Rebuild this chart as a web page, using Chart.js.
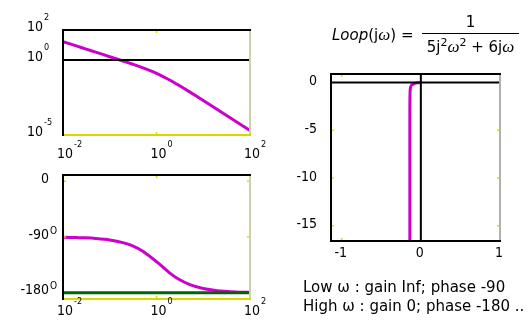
<!DOCTYPE html>
<html>
<head>
<meta charset="utf-8">
<script src="https://cdn.jsdelivr.net/npm/chart.js@4.4.1/dist/chart.umd.min.js"></script>
<style>
    body { margin: 0; background: #fff; }
    #wrap { position: relative; width: 529px; height: 325px; overflow: hidden; font-family: "Comic Sans MS", "DejaVu Sans", sans-serif; color: #000; }
    #wrap canvas { position: absolute; left: 0; top: 0; }
    .txt { position: absolute; white-space: nowrap; font-size: 15px; line-height: 1; }
    .w { font-family: "Liberation Serif", serif; font-style: italic; font-size: 17px; }
    #frac { position: absolute; left: 422px; top: 15px; width: 97px; text-align: center; font-size: 15px; line-height: 1; }
    #frac .num { padding-bottom: 3px; }
    #frac .den { border-top: 1.5px solid #000; padding-top: 3px; }
    #frac sup { font-size: 11px; vertical-align: 6px; }
</style>
</head>
<body>
<div id="wrap">
    <canvas id="gain_chart" width="529" height="325"></canvas>
    <canvas id="phase_chart" width="529" height="325"></canvas>
    <canvas id="nyquist_chart" width="529" height="325"></canvas>

    <div class="txt" style="left:332px; top:26px;"><i>Loop</i>(j<span class="w">ω</span>) =</div>
    <div id="frac">
        <div class="num">1</div>
        <div class="den">5j<sup>2</sup><span class="w">ω</span><sup>2</sup> + 6j<span class="w">ω</span></div>
    </div>

    <div class="txt" style="left:303px; top:280px;">Low ω : gain Inf; phase -90</div>
    <div class="txt" style="left:303px; top:299px;">High ω : gain 0; phase -180 ..</div>
</div>

<script>
// frequency sweep (rad/s) and values
const omega = [0.01, 0.02, 0.03, 0.05, 0.1, 0.2, 0.3, 0.5, 1, 2, 3, 5, 10, 20, 50, 100];
const gain = [16.7, 8.33, 5.56, 3.33, 1.66, 0.822, 0.539, 0.308, 0.128, 0.0429, 0.0206, 0.00778, 0.00199, 0.000499, 0.00008, 0.00002];
const phase = [-90.5, -91.0, -91.4, -92.4, -94.8, -99.5, -104.0, -112.6, -129.8, -149.0, -158.2, -166.3, -173.2, -176.6, -178.6, -179.3];

// reference lines
const unityGain = [1, 1];
const phaseLimit = [-180, -180];

// nyquist locus
const nyqRe = [-0.139, -0.139, -0.139, -0.138, -0.135, -0.131, -0.118, -0.082, -0.037, -0.008, -0.002, 0];
const nyqIm = [-16.7, -8.33, -3.33, -1.66, -0.81, -0.52, -0.28, -0.098, -0.022, -0.002, -0.0002, 0];

// tick labels: [value, base, exponent]
const gainTicks = [[100, "10", "2"], [1, "10", "0"], [0.00001, "10", "-5"]];
const freqTicks = [[0.01, "10", "-2"], [1, "10", "0"], [100, "10", "2"]];
const phaseTicks = [[0, "0", ""], [-90, "-90", "O"], [-180, "-180", "O"]];
const nyqYTicks = [[0, "0", ""], [-5, "-5", ""], [-10, "-10", ""], [-15, "-15", ""]];
const nyqXTicks = [[-1, "-1", ""], [0, "0", ""], [1, "1", ""]];

const MAGENTA = "#cc00cc";
const GREEN = "#006400";
const YELLOW = "#e0e000";
const FONT = '"Comic Sans MS", "DejaVu Sans Condensed", "DejaVu Sans", sans-serif';

function pts(xs, ys) {
    return xs.map((x, i) => ({x: x, y: ys[i]}));
}

function drawPow(ctx, base, exp, x, y, align, exp_font, raise) {
    ctx.font = "14px " + FONT;
    ctx.textBaseline = "middle";
    const bw = ctx.measureText(base).width;
    let bx = align === "right" ? x - bw : x - bw / 2;
    ctx.textAlign = "left";
    ctx.fillText(base, bx, y);
    if (exp) {
        ctx.font = exp_font + "px " + FONT;
        ctx.fillText(exp, bx + bw + 1, y - raise);
    }
}

// box edges, small yellow tick marks, zero axes and tick labels
const framePlugin = {
    id: "frame",
    afterDatasetsDraw(chart, args, opts) {
        const ctx = chart.ctx;
        const a = chart.chartArea;
        const xs = chart.scales.x, ys = chart.scales.y;
        ctx.save();

        if (opts.zeroAxes) {
            ctx.strokeStyle = "#000";
            ctx.lineWidth = 2;
            const x0 = xs.getPixelForValue(0), y0 = ys.getPixelForValue(0);
            ctx.beginPath();
            ctx.moveTo(a.left, y0); ctx.lineTo(a.right, y0);
            ctx.moveTo(x0, a.top); ctx.lineTo(x0, a.bottom);
            ctx.stroke();
        }

        ctx.strokeStyle = YELLOW;
        ctx.lineWidth = 1.5;
        ctx.beginPath();
        (opts.xMarks || []).forEach(v => {
            const px = xs.getPixelForValue(v);
            ctx.moveTo(px, a.top); ctx.lineTo(px, a.top + 3);
            ctx.moveTo(px, a.bottom); ctx.lineTo(px, a.bottom - 3);
        });
        (opts.yMarks || []).forEach(v => {
            const py = ys.getPixelForValue(v);
            ctx.moveTo(a.left, py); ctx.lineTo(a.left + 3, py);
            ctx.moveTo(a.right, py); ctx.lineTo(a.right - 3, py);
        });
        ctx.stroke();

        const e = opts.edges;
        const line = (c, x1, y1, x2, y2) => {
            ctx.strokeStyle = c;
            ctx.lineWidth = 2;
            ctx.beginPath();
            ctx.moveTo(x1, y1); ctx.lineTo(x2, y2);
            ctx.stroke();
        };
        line(e.right, a.right, a.top, a.right, a.bottom);
        line(e.bottom, a.left - 1, a.bottom, a.right + 1, a.bottom);
        line(e.top, a.left - 1, a.top, a.right + 1, a.top);
        line(e.left, a.left, a.top - 1, a.left, a.bottom + 1);

        ctx.fillStyle = "#000";
        opts.yTicks.forEach(t => {
            drawPow(ctx, t[1], t[2], a.left - opts.yGap, ys.getPixelForValue(t[0]) + opts.yShift, "right", opts.expFont, opts.expRaise);
        });
        opts.xTicks.forEach(t => {
            drawPow(ctx, t[1], t[2], xs.getPixelForValue(t[0]) + opts.xShift, opts.xLabelY, "center", 9, 9);
        });
        ctx.restore();
    }
};

const BodeController = {
    gain_chart: null,
    phase_chart: null,
    nyquist_chart: null,
    baseOptions(padding, xScale, yScale, frame) {
        return {
            responsive: false,
            animation: false,
            events: [],
            layout: {padding: padding},
            plugins: {legend: {display: false}, tooltip: {enabled: false}, frame: frame},
            scales: {
                x: Object.assign({display: false}, xScale),
                y: Object.assign({display: false}, yScale)
            }
        };
    },
    SetUpGain() {
        const ctx = document.getElementById("gain_chart").getContext("2d");
        BodeController.gain_chart = new Chart(ctx, {
            type: "line",
            data: {
                datasets: [{
                    data: pts([omega[0], omega[omega.length - 1]], unityGain),
                    borderColor: "#000",
                    borderWidth: 2,
                    pointRadius: 0
                }, {
                    data: pts(omega, gain),
                    borderColor: MAGENTA,
                    borderWidth: 3,
                    pointRadius: 0,
                    tension: 0.3
                }]
            },
            options: BodeController.baseOptions(
                {left: 63, top: 30, right: 279, bottom: 190},
                {type: "logarithmic", min: 0.01, max: 100},
                {type: "logarithmic", min: 0.00001, max: 100},
                {
                    edges: {top: "#000", left: "#000", right: "#d0d0a8", bottom: "#d8d800"},
                    xMarks: [1], yMarks: [],
                    yTicks: gainTicks, yGap: 20, yShift: -3, expFont: 9, expRaise: 9,
                    xTicks: freqTicks, xShift: 2, xLabelY: 154
                }
            ),
            plugins: [framePlugin]
        });
    },
    SetUpPhase() {
        const ctx = document.getElementById("phase_chart").getContext("2d");
        BodeController.phase_chart = new Chart(ctx, {
            type: "line",
            data: {
                datasets: [{
                    data: pts([omega[0], omega[omega.length - 1]], phaseLimit),
                    borderColor: GREEN,
                    borderWidth: 3,
                    pointRadius: 0
                }, {
                    data: pts(omega, phase),
                    borderColor: MAGENTA,
                    borderWidth: 3,
                    pointRadius: 0,
                    tension: 0.3
                }]
            },
            options: BodeController.baseOptions(
                {left: 63, top: 175, right: 279, bottom: 26},
                {type: "logarithmic", min: 0.01, max: 100},
                {type: "linear", min: -190, max: 10},
                {
                    edges: {top: "#000", left: "#000", right: "#d0d0a8", bottom: "#d8d800"},
                    xMarks: [1], yMarks: [0, -90],
                    yTicks: phaseTicks, yGap: 14, yShift: -2, expFont: 10, expRaise: 4,
                    xTicks: freqTicks, xShift: 2, xLabelY: 311
                }
            ),
            plugins: [framePlugin]
        });
    },
    SetUpNyquist() {
        const ctx = document.getElementById("nyquist_chart").getContext("2d");
        BodeController.nyquist_chart = new Chart(ctx, {
            type: "line",
            data: {
                datasets: [{
                    data: pts(nyqRe, nyqIm),
                    borderColor: MAGENTA,
                    borderWidth: 3,
                    pointRadius: 0,
                    tension: 0.2
                }]
            },
            options: BodeController.baseOptions(
                {left: 331, top: 74, right: 29, bottom: 84},
                {type: "linear", min: -1.135, max: 1},
                {type: "linear", min: -16.6, max: 0.9},
                {
                    zeroAxes: true,
                    edges: {top: "#000", left: "#000", right: "#b0b0b0", bottom: "#000"},
                    xMarks: [-1], yMarks: [-5, -10, -15],
                    yTicks: nyqYTicks, yGap: 14, yShift: -1, expFont: 9, expRaise: 9,
                    xTicks: nyqXTicks, xShift: -1, xLabelY: 253
                }
            ),
            plugins: [framePlugin]
        });
    },
    Run() {
        BodeController.SetUpGain();
        BodeController.SetUpPhase();
        BodeController.SetUpNyquist();
    }
};

BodeController.Run();
</script>
</body>
</html>
